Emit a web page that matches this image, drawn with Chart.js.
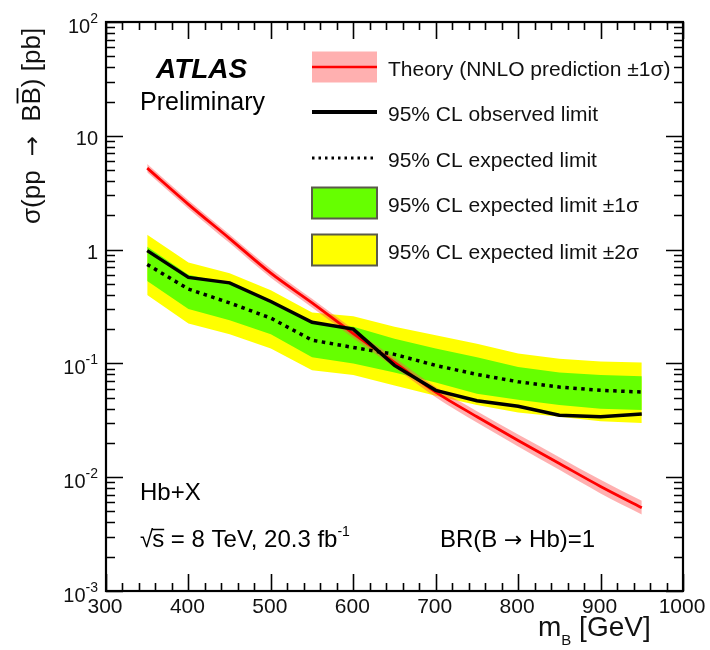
<!DOCTYPE html>
<html>
<head>
<meta charset="utf-8">
<script src="https://cdn.jsdelivr.net/npm/chart.js@4.4.1/dist/chart.umd.min.js"></script>
<style>
html, body { margin: 0; padding: 0; background: #fff; }
canvas { display: block; }
</style>
</head>
<body>
<canvas id="c" width="710" height="650"></canvas>
<script>
// Vector-like B quark mass points [GeV]
const massPoints = [350, 400, 450, 500, 550, 600, 650, 700, 750, 800, 850, 900, 950];

// Theory cross section (NNLO) and its +-1 sigma band [pb]
const theory     = [5.2, 2.5, 1.25, 0.62, 0.34, 0.183, 0.102, 0.056, 0.034, 0.021, 0.0132, 0.0083, 0.0054];
const theoryUp   = [5.65, 2.72, 1.36, 0.68, 0.37, 0.200, 0.112, 0.062, 0.038, 0.0237, 0.0150, 0.0095, 0.0062];
const theoryDown = [4.78, 2.29, 1.14, 0.565, 0.31, 0.167, 0.092, 0.0505, 0.0302, 0.0186, 0.0116, 0.0072, 0.0047];

// 95% CL limits [pb]
const observed   = [0.98, 0.57, 0.51, 0.35, 0.23, 0.20, 0.096, 0.058, 0.047, 0.042, 0.035, 0.034, 0.036];
const expected   = [0.74, 0.45, 0.34, 0.25, 0.16, 0.138, 0.12, 0.096, 0.080, 0.069, 0.062, 0.058, 0.056];
const oneSigUp   = [1.06, 0.60, 0.50, 0.36, 0.23, 0.21, 0.165, 0.135, 0.113, 0.093, 0.083, 0.079, 0.077];
const oneSigDown = [0.53, 0.30, 0.24, 0.18, 0.113, 0.10, 0.083, 0.068, 0.054, 0.048, 0.043, 0.040, 0.039];
const twoSigUp   = [1.35, 0.77, 0.62, 0.44, 0.28, 0.26, 0.21, 0.177, 0.149, 0.122, 0.110, 0.104, 0.102];
const twoSigDown = [0.40, 0.224, 0.18, 0.135, 0.087, 0.079, 0.064, 0.052, 0.043, 0.037, 0.034, 0.031, 0.030];

// Axis ranges and tick labels
const xMin = 300, xMax = 1000;
const xTickLabels = ['300', '400', '500', '600', '700', '800', '900', '1000'];
const yDecades = [-3, -2, -1, 0, 1, 2];

const legendLabels = [
  'Theory (NNLO prediction \u00b11\u03c3)',
  '95% CL observed limit',
  '95% CL expected limit',
  '95% CL expected limit \u00b11\u03c3',
  '95% CL expected limit \u00b12\u03c3'
];

const FONT = '"Liberation Sans", Arial, Helvetica, sans-serif';
const ARROW_FONT = '"DejaVu Sans", sans-serif';
const YELLOW = '#ffff00';
const GREEN = '#66ff00';
const PINK = 'rgba(255, 80, 80, 0.45)';
const RED = '#ff0000';

const pts = arr => massPoints.map((m, i) => ({ x: m, y: arr[i] }));

const datasets = [
  { label: 'obs', data: pts(observed), borderColor: '#000', borderWidth: 3.5, pointRadius: 0, fill: false, order: 0 },
  { label: 'exp', data: pts(expected), borderColor: '#000', borderWidth: 3.5, borderDash: [3.5, 4.5], borderCapStyle: 'butt', pointRadius: 0, fill: false, order: 1 },
  { label: 'theory', data: pts(theory), borderColor: RED, borderWidth: 2.8, pointRadius: 0, fill: false, cubicInterpolationMode: 'monotone', order: 2 },
  { label: 'thUp', data: pts(theoryUp), borderWidth: 0, borderColor: 'transparent', backgroundColor: PINK, pointRadius: 0, fill: '+1', cubicInterpolationMode: 'monotone', order: 3 },
  { label: 'thDown', data: pts(theoryDown), borderWidth: 0, borderColor: 'transparent', pointRadius: 0, fill: false, cubicInterpolationMode: 'monotone', order: 3 },
  { label: 'g1Up', data: pts(oneSigUp), borderWidth: 0, borderColor: 'transparent', backgroundColor: GREEN, pointRadius: 0, fill: '+1', order: 4 },
  { label: 'g1Down', data: pts(oneSigDown), borderWidth: 0, borderColor: 'transparent', pointRadius: 0, fill: false, order: 4 },
  { label: 'y2Up', data: pts(twoSigUp), borderWidth: 0, borderColor: 'transparent', backgroundColor: YELLOW, pointRadius: 0, fill: '+1', order: 5 },
  { label: 'y2Down', data: pts(twoSigDown), borderWidth: 0, borderColor: 'transparent', pointRadius: 0, fill: false, order: 5 }
];

// Writes "10" with a raised exponent, right-aligned at xr
function drawPow(ctx, exp, xr, yc) {
  const base = '10';
  ctx.font = '20px ' + FONT;
  const supFont = '14px ' + FONT;
  ctx.textBaseline = 'middle';
  ctx.textAlign = 'left';
  if (exp === 0) {
    const w = ctx.measureText('1').width;
    ctx.fillText('1', xr - w, yc + 4);
    return;
  }
  if (exp === 1) {
    const w = ctx.measureText(base).width;
    ctx.fillText(base, xr - w, yc + 4);
    return;
  }
  const sup = String(exp);
  ctx.font = supFont;
  const ws = ctx.measureText(sup).width;
  ctx.font = '20px ' + FONT;
  const wb = ctx.measureText(base).width;
  ctx.fillText(base, xr - ws - wb, yc + 5);
  ctx.font = supFont;
  ctx.fillText(sup, xr - ws, yc - 3);
}

// Writes a sequence of [text, font] pieces left to right, returns end x
function drawRun(ctx, pieces, x, y) {
  for (const [s, f] of pieces) {
    ctx.font = f;
    ctx.fillText(s, x, y);
    x += ctx.measureText(s).width;
  }
  return x;
}

const framePlugin = {
  id: 'frame',
  afterDraw(chart) {
    const ctx = chart.ctx;
    const xs = chart.scales.x, ys = chart.scales.y;
    const { left, right, top, bottom } = chart.chartArea;
    ctx.save();
    ctx.fillStyle = '#111';
    ctx.strokeStyle = '#000';

    // ticks pointing inwards on all four sides
    ctx.lineWidth = 1.6;
    ctx.beginPath();
    for (let v = xMin; v <= xMax; v += 20) {
      const px = Math.round(xs.getPixelForValue(v)) + 0.5;
      const len = v % 100 === 0 ? 17 : 8;
      ctx.moveTo(px, bottom); ctx.lineTo(px, bottom - len);
      ctx.moveTo(px, top); ctx.lineTo(px, top + len);
    }
    for (const d of yDecades) {
      for (let k = 1; k <= 9; k++) {
        if (d === 2 && k > 1) break;
        const py = Math.round(ys.getPixelForValue(k * Math.pow(10, d))) + 0.5;
        const len = k === 1 ? 17 : 9;
        ctx.moveTo(left, py); ctx.lineTo(left + len, py);
        ctx.moveTo(right, py); ctx.lineTo(right - len, py);
      }
    }
    ctx.stroke();

    // frame
    ctx.lineWidth = 2.2;
    ctx.strokeRect(left, top, right - left, bottom - top);

    // x tick labels
    ctx.font = '21px ' + FONT;
    ctx.textAlign = 'center';
    ctx.textBaseline = 'middle';
    xTickLabels.forEach(t => {
      ctx.fillText(t, xs.getPixelForValue(Number(t)) - 1, 607);
    });

    // y tick labels
    yDecades.forEach(d => drawPow(ctx, d, 98, ys.getPixelForValue(Math.pow(10, d))));

    // x title: m_B [GeV]
    ctx.textAlign = 'left';
    ctx.textBaseline = 'alphabetic';
    ctx.font = '28px ' + FONT;
    let x = 538;
    ctx.fillText('m', x, 636);
    x += ctx.measureText('m').width;
    ctx.font = '15px ' + FONT;
    ctx.fillText('B', x, 645);
    x += ctx.measureText('B').width;
    ctx.font = '28px ' + FONT;
    ctx.fillText(' [GeV]', x, 636);

    // y title: sigma(pp -> B Bbar) [pb], rotated
    ctx.save();
    ctx.translate(40, 224);
    ctx.rotate(-Math.PI / 2);
    const F26 = '26px ' + FONT;
    let t = drawRun(ctx, [['\u03c3(pp ', F26]], 0, 0);
    t += 7;
    t = drawRun(ctx, [['\u2192', '24px ' + ARROW_FONT]], t, 0);
    t += 7;
    t = drawRun(ctx, [[' B', F26]], t, 0);
    const bStart = t;
    t = drawRun(ctx, [['B', F26]], t, 0);
    const bEnd = t;
    drawRun(ctx, [[') [pb]', F26]], t, 0);
    ctx.lineWidth = 1.8;
    ctx.beginPath();
    ctx.moveTo(bStart + 1, -22.5);
    ctx.lineTo(bEnd - 1, -22.5);
    ctx.stroke();
    ctx.restore();

    // ATLAS label
    ctx.fillStyle = '#000';
    ctx.font = 'italic bold 28px ' + FONT;
    ctx.fillText('ATLAS', 156, 78);
    ctx.font = '25px ' + FONT;
    ctx.fillText('Preliminary', 140, 110);

    // analysis labels
    ctx.font = '24px ' + FONT;
    ctx.fillText('Hb+X', 140, 500);
    x = 140;
    ctx.fillText('\u221a', x, 547);
    x += ctx.measureText('\u221a').width - 1;
    const sx = x;
    ctx.fillText('s', x, 547);
    x += ctx.measureText('s').width;
    ctx.lineWidth = 1.5;
    ctx.beginPath();
    ctx.moveTo(sx, 529.5); ctx.lineTo(x, 529.5);
    ctx.stroke();
    const rest = ' = 8 TeV, 20.3 fb';
    ctx.fillText(rest, x, 547);
    x += ctx.measureText(rest).width;
    ctx.font = '14px ' + FONT;
    ctx.fillText('-1', x, 536);
    const F24 = '24px ' + FONT;
    drawRun(ctx, [['BR(B ', F24], ['\u2192', '22px ' + ARROW_FONT], [' Hb)=1', F24]], 440, 547);

    // legend
    const rows = [67, 112, 158, 203, 250];
    const bx = 312, bw = 65, bh = 31;
    ctx.fillStyle = datasets[3].backgroundColor;
    ctx.fillRect(bx, rows[0] - bh / 2, bw, bh);
    ctx.strokeStyle = datasets[2].borderColor;
    ctx.lineWidth = 2.5;
    ctx.beginPath(); ctx.moveTo(bx, rows[0]); ctx.lineTo(bx + bw, rows[0]); ctx.stroke();

    ctx.strokeStyle = datasets[0].borderColor;
    ctx.lineWidth = 4;
    ctx.beginPath(); ctx.moveTo(bx, rows[1]); ctx.lineTo(bx + bw, rows[1]); ctx.stroke();

    ctx.lineWidth = 3;
    ctx.setLineDash([2.5, 4]);
    ctx.beginPath(); ctx.moveTo(bx, rows[2]); ctx.lineTo(bx + bw, rows[2]); ctx.stroke();
    ctx.setLineDash([]);

    [[3, datasets[5].backgroundColor], [4, datasets[7].backgroundColor]].forEach(([r, col]) => {
      ctx.fillStyle = col;
      ctx.fillRect(bx, rows[r] - bh / 2, bw, bh);
      ctx.strokeStyle = '#5a5a4a';
      ctx.lineWidth = 2;
      ctx.strokeRect(bx, rows[r] - bh / 2, bw, bh);
    });

    ctx.fillStyle = '#111';
    ctx.font = '21px ' + FONT;
    ctx.textBaseline = 'middle';
    legendLabels.forEach((lab, i) => ctx.fillText(lab, 388, rows[i] + 3));

    ctx.restore();
  }
};

new Chart(document.getElementById('c'), {
  type: 'line',
  data: { datasets },
  options: {
    responsive: false,
    animation: false,
    layout: { padding: { left: 106, right: 27, top: 22, bottom: 59 } },
    plugins: { legend: { display: false }, tooltip: { enabled: false }, filler: { propagate: false } },
    elements: { line: { tension: 0 } },
    scales: {
      x: { type: 'linear', min: xMin, max: xMax, display: false },
      y: { type: 'logarithmic', min: 1e-3, max: 1e2, display: false }
    }
  },
  plugins: [framePlugin]
});
</script>
</body>
</html>
